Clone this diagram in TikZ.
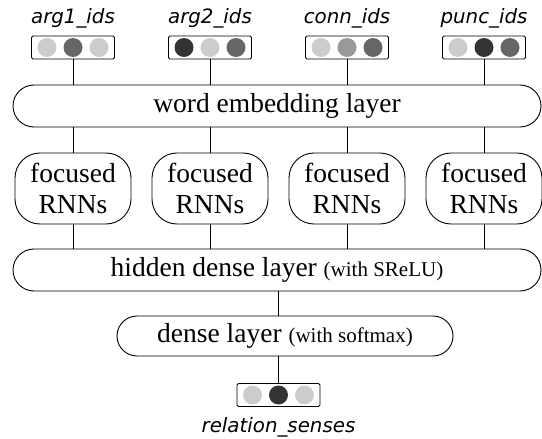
\documentclass[tikz,border=0pt]{standalone}
\usepackage{fontspec}
\usepackage{xcolor}
\usepackage{tikz}
\setmainfont{Liberation Serif}
\newfontfamily\labelfont{DejaVu Sans}
\newcommand{\mainsize}{\fontsize{27.5}{31}\selectfont}
\newcommand{\notesize}{\fontsize{21}{24}\selectfont}
\definecolor{dotlight}{HTML}{CCCCCC}
\definecolor{dotmid}{HTML}{999999}
\definecolor{dotgray}{HTML}{666666}
\definecolor{dotdark}{HTML}{333333}

\begin{document}
\begin{tikzpicture}[x=1pt, y=-1pt, line width=0.9pt, every node/.style={inner sep=0pt}, layer/.style={draw, rounded corners=21pt, minimum width=528pt, minimum height=42pt, font=\mainsize}, rnn/.style={draw, rounded corners=25pt, minimum width=116pt, minimum height=71pt, align=center, font=\mainsize}, vec/.style={draw, rounded corners=1.5pt, minimum width=83pt, minimum height=23pt}, dot/.style={circle, minimum size=19pt}, lab/.style={font=\labelfont\itshape\fontsize{19.8}{22}\selectfont}]
  \useasboundingbox (0,0) rectangle (542,439);
  \node[layer](embed) at (277,106){word embedding layer};
  \node[layer](hidden) at (277,270){hidden dense layer {\notesize(with SReLU)}};
  \node[layer, rounded corners=20pt, minimum width=336pt, minimum height=40pt](dense) at (285,336){dense layer {\notesize(with softmax)}};
  \foreach \n/\x/\lab/\ca/\cb/\cc in {1/73/arg1\_ids/dotlight/dotgray/dotlight, 2/210/arg2\_ids/dotdark/dotlight/dotgray, 3/347/conn\_ids/dotlight/dotmid/dotgray, 4/484/punc\_ids/dotlight/dotdark/dotgray}{
    \node[lab](l\n) at (\x,18){\lab};
    \node[vec](v\n) at (\x,47.5){};
    \node[dot, fill=\ca](v\n a) at (\x-26,47.5){};
    \node[dot, fill=\cb](v\n b) at (\x,47.5){};
    \node[dot, fill=\cc](v\n c) at (\x+26,47.5){};
    \node[rnn](r\n) at (\x,188.5){focused\\RNNs};
    \draw (v\n) -- (v\n |- embed.north);
    \draw (embed.south -| r\n) -- (r\n.north);
    \draw (r\n.south) -- (hidden.north -| r\n);
  }
  \node[vec](out) at (278.5,395){};
  \node[dot, fill=dotlight](out a) at (252.5,395){};
  \node[dot, fill=dotdark](out b) at (278.5,395){};
  \node[dot, fill=dotlight](out c) at (304.5,395){};
  \node[lab](senses) at (278.5,427){relation\_senses};
  \draw (hidden.south -| out) -- (dense.north -| out);
  \draw (dense.south -| out) -- (out.north);
\end{tikzpicture}
\end{document}
